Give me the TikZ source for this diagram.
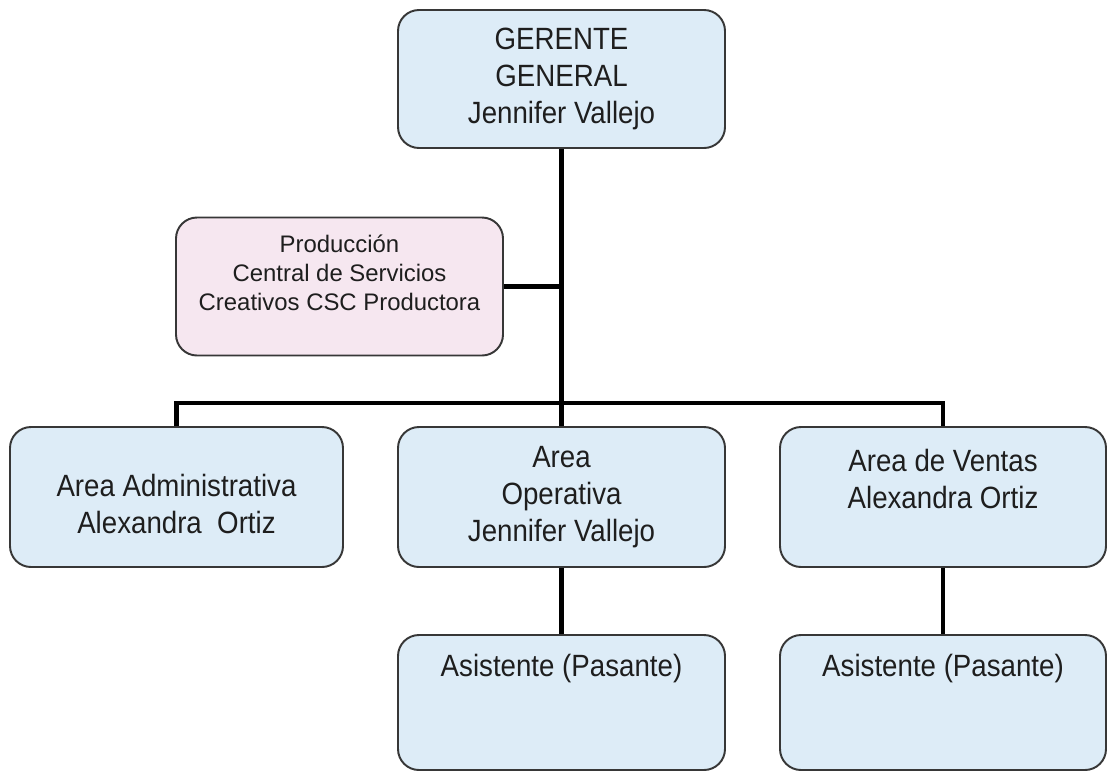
\documentclass[tikz,border=0pt]{standalone}
\usepackage{fontspec}
\setmainfont{Liberation Sans}
\newfontfamily\estrecha[FakeStretch=0.9]{Liberation Sans}
\definecolor{boxblue}{RGB}{221,236,247}
\definecolor{boxpink}{RGB}{246,231,240}
\definecolor{boxline}{RGB}{55,55,55}
\definecolor{texto}{RGB}{30,30,30}
\begin{document}
\begin{tikzpicture}[cargo/.style={draw=boxline,line width=1.1pt,rounded corners=0.42cm,fill=boxblue,
    minimum width=6.54cm,minimum height=2.76cm,align=center,inner sep=2pt,text=texto,
    font=\estrecha\fontsize{17.5}{21}\selectfont},
  apoyo/.style={cargo,fill=boxpink,font=\fontsize{13.6}{16.4}\selectfont},
  enlace/.style={line width=2.3pt,black}]
\useasboundingbox (0,0) rectangle (22.32,-15.44);
\node[cargo] (gerente) at (11.23,-1.58) {GERENTE\\GENERAL\\Jennifer Vallejo};
\node[apoyo] (prod) at (6.79,-5.73) {Producción\\Central de Servicios\\Creativos CSC Productora\\[-0.5pt]\mbox{}};
\node[cargo,minimum width=6.66cm,minimum height=2.8cm] (admin) at (3.53,-9.94) {\mbox{}\\Area Administrativa\\Alexandra~ Ortiz};
\node[cargo,minimum height=2.8cm] (oper) at (11.23,-9.94) {Area\\Operativa\\Jennifer Vallejo};
\node[cargo,minimum width=6.52cm,minimum height=2.8cm] (ventas) at (18.86,-9.94) {Area de Ventas\\Alexandra Ortiz\\\mbox{}};
\node[cargo,minimum height=2.7cm] (asis1) at (11.23,-14.05) {Asistente (Pasante)\\\mbox{}\\\mbox{}};
\node[cargo,minimum width=6.52cm,minimum height=2.7cm] (asis2) at (18.86,-14.05) {Asistente (Pasante)\\\mbox{}\\\mbox{}};
\coordinate (bus) at (11.23,-8.06);
\draw[enlace] (gerente.south) -- (oper.north);
\draw[enlace] (prod.east) -- (prod.east -| gerente.south);
\draw[enlace] (admin.north) -- (admin.north |- bus) -- (ventas.north |- bus) -- (ventas.north);
\draw[enlace] (oper.south) -- (asis1.north);
\draw[enlace] (ventas.south) -- (asis2.north);
\end{tikzpicture}
\end{document}
